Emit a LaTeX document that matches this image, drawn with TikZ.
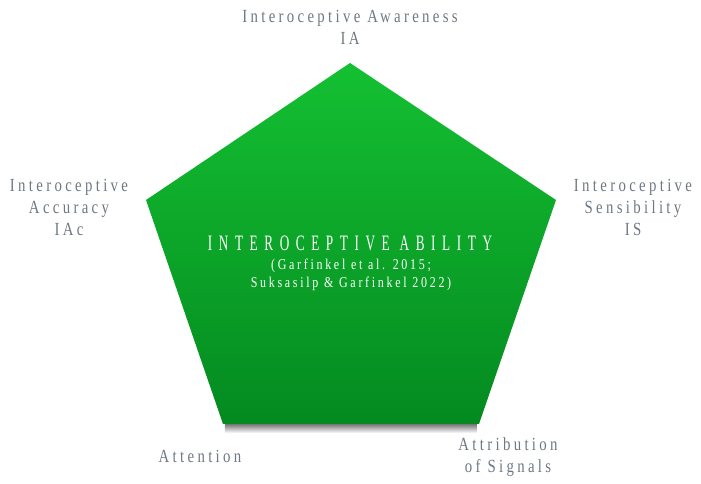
\documentclass[tikz,border=0pt]{standalone}
\usepackage{fontspec}
\setmainfont{Liberation Serif}
\newfontfamily\labelfont[FakeStretch=0.8,LetterSpace=18]{Liberation Serif}
\newfontfamily\titlefont[FakeStretch=0.6,LetterSpace=30]{Liberation Serif}
\usetikzlibrary{fadings}
\definecolor{pentTop}{RGB}{20,192,50}
\definecolor{pentBot}{RGB}{4,138,32}
\definecolor{labelGrey}{RGB}{110,120,130}
\begin{document}
\begin{tikzpicture}[x=1pt,y=1pt,
      cornerLabel/.style={align=center,inner sep=0pt,text=labelGrey,
        font=\labelfont\fontsize{18.5}{22}\selectfont},
      centerTitle/.style={align=center,inner sep=0pt,text=white,
        font=\titlefont\fontsize{22}{26}\selectfont},
      centerRef/.style={align=center,inner sep=0pt,text=white,
        font=\labelfont\fontsize{15}{18}\selectfont},
    ]
    \useasboundingbox (0,0) rectangle (701,484);

    % pentagon corners
    \coordinate (pTop) at (350,421);
    \coordinate (pRight) at (556,284);
    \coordinate (pBotR) at (479,60);
    \coordinate (pBotL) at (223,60);
    \coordinate (pLeft) at (146,284);

    % shadow under the bottom edge
    \shade[left color=black!60,middle color=black!8,right color=black!60,
      path fading=south] (225,61) rectangle (477,51);

    \shade[top color=pentTop,bottom color=pentBot]
      (pTop) -- (pRight) -- (pBotR) -- (pBotL) -- (pLeft) -- cycle;

    % base anchor sits on the last line
    \node[cornerLabel,anchor=base] (ia) at (350,439) {Interoceptive Awareness\\IA};
    \node[cornerLabel,anchor=base] (iac) at (69,248) {Interoceptive\\Accuracy\\IAc};
    \node[cornerLabel,anchor=base] (is) at (633,248) {Interoceptive\\Sensibility\\IS};
    \node[cornerLabel,anchor=base] (att) at (200,21) {Attention};
    \node[cornerLabel,anchor=base] (attr) at (508,11) {Attribution\\of Signals};

    \node[centerTitle,anchor=base] (ability) at (350,233) {INTEROCEPTIVE ABILITY};
    \node[centerRef,anchor=base] (refs) at (351,196)
      {(Garfinkel et al. 2015;\\Suksasilp \& Garfinkel 2022)};

\end{tikzpicture}
\end{document}
